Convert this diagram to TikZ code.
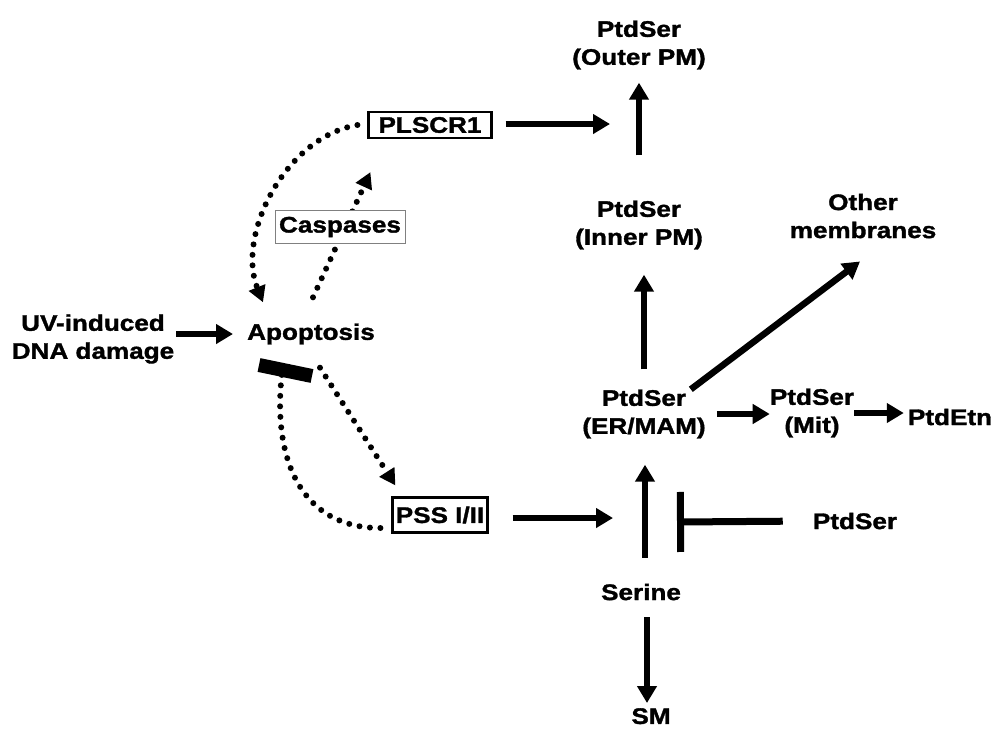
\documentclass[tikz,border=0pt]{standalone}
\usepackage{fontspec}
\setmainfont{Liberation Sans}[FakeStretch=1.16, BoldFeatures={FakeBold=1.5}]
\usetikzlibrary{arrows.meta,backgrounds}
\begin{document}
\begin{tikzpicture}[x=1pt,y=-1pt,
  lbl/.style={font=\bfseries\fontsize{22.5}{28}\selectfont, align=center, inner sep=0pt},
  boxed/.style={lbl, draw, line width=2.2pt},
  flow/.style={line width=6.5pt, -{Triangle[length=17pt,width=19pt]}},
  dots/.style={line width=6pt, line cap=round, dash pattern=on 0pt off 10.5pt,
    -{Triangle[length=16pt,width=17pt]}},
  inhib/.style={line width=7pt, -{Bar[width=60pt,line width=7pt]}},
]
\useasboundingbox (0,0) rectangle (998,729);

% species and enzymes
\node[lbl] (outer)  at (639,45)  {PtdSer\\(Outer PM)};
\node[lbl] (inner)  at (639,225) {PtdSer\\(Inner PM)};
\node[lbl] (other)  at (863,216) {Other\\membranes};
\node[lbl] (ermam)  at (644,414) {PtdSer\\(ER/MAM)};
\node[lbl] (mit)    at (812,413) {PtdSer\\(Mit)};
\node[lbl] (etn)    at (950,417) {PtdEtn};
\node[lbl] (uv)     at (93,339)  {UV-induced\\DNA damage};
\node[lbl] (apop)   at (311,334) {Apoptosis};
\node[lbl] (serine) at (641,592) {Serine};
\node[lbl, anchor=north] (sm) at (651,708) {SM};
\node[lbl] (ptdR)   at (855,521) {PtdSer};
\node[boxed, minimum width=123pt, minimum height=26pt] (plscr) at (430,125) {PLSCR1};
\node[boxed, minimum width=95pt, minimum height=35pt] (pss) at (440,515) {PSS I/II};
\node[lbl, draw=black!50, line width=1pt, fill=white,
      minimum width=130pt, minimum height=33pt] (casp) at (340,227) {Caspases};

% free ends of the membrane-transfer arrows and the apoptosis block
\coordinate (pmOut) at (610,124);
\coordinate (serIn) at (613,518);
\coordinate (blk)   at (677,522);
\coordinate (barL)  at (259,365);
\coordinate (barR)  at (312,376);
\coordinate (barMid) at (282,373);

% solid arrows
\draw[flow, shorten <=2pt, shorten >=14pt] (uv.east |- apop.west) -- (apop.west);
\draw[flow, shorten <=13pt] (plscr.east |- pmOut) -- (pmOut);
\draw[flow, shorten <=24pt] (pss.east |- serIn) -- (serIn);
\draw[flow, shorten <=20pt, shorten >=25pt] (ermam.north) -- (ermam.north |- inner.south);
\draw[flow, shorten <=45pt, shorten >=13pt] (inner.north) -- (inner.north |- outer.south);
\draw[flow, shorten <=11pt] (ermam.east) -- (ermam.east -| mit.west);
\draw[flow, shorten >=4pt] (mit.east) -- (mit.east -| etn.west);
\draw[flow] ([xshift=-15pt]ermam.north east) -- ([shift={(-3pt,-23pt)}]other.south);
\draw[flow] ([shift={(4pt,26pt)}]serine.north) -- ([shift={(1pt,-26pt)}]ermam.south);
\draw[flow] ([shift={(6pt,-17pt)}]serine.south) -- ([shift={(-4pt,5pt)}]sm.north);
\draw[inhib, shorten <=30pt] (ptdR.west) -- (blk);

% dotted regulatory links
\draw[dots] ([xshift=-10pt]plscr.west) .. controls +(-72,12) and +(-27,-67)
  .. ([shift={(16pt,21pt)}]apop.north west);
\begin{scope}[on background layer]
\draw[dots] ([shift={(2pt,26pt)}]apop.north) -- ([shift={(3pt,-33pt)}]plscr.south west);
\end{scope}
\draw[dots] ([shift={(9pt,-23pt)}]apop.south) -- ([shift={(4pt,11pt)}]pss.north west);
\draw[line width=6pt, line cap=round, dash pattern=on 0pt off 10.5pt]
  ([shift={(-11pt,-13pt)}]pss.west) .. controls +(-80,0) and +(-10,85) .. (barMid);
\draw[line width=14pt] (barL) -- (barR);
\end{tikzpicture}
\end{document}
